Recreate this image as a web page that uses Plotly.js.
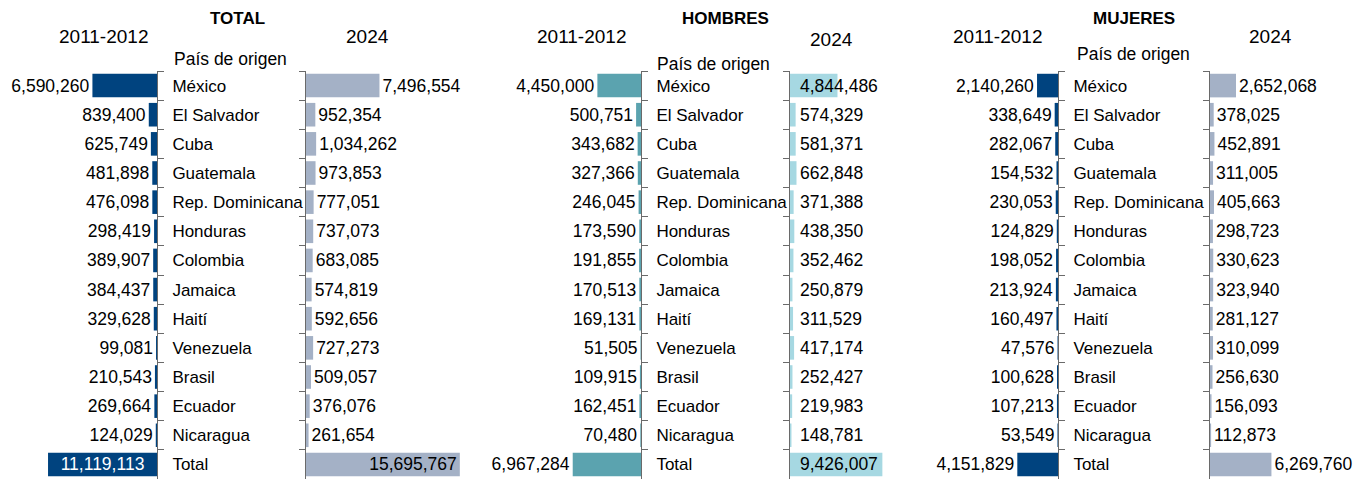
<!DOCTYPE html>
<html>
<head>
<meta charset="utf-8">
<script src="https://cdn.plot.ly/plotly-3.0.1.min.js"></script>
<style>
html,body{margin:0;padding:0;background:#fff;}
#chart{width:1367px;height:481px;}
</style>
</head>
<body>
<div id="chart"></div>
<script>
// ---- Data ----
const categories = ["México","El Salvador","Cuba","Guatemala","Rep. Dominicana","Honduras","Colombia","Jamaica","Haití","Venezuela","Brasil","Ecuador","Nicaragua","Total"];
const total2011 = [6590260,839400,625749,481898,476098,298419,389907,384437,329628,99081,210543,269664,124029,11119113];
const total2024 = [7496554,952354,1034262,973853,777051,737073,683085,574819,592656,727273,509057,376076,261654,15695767];
const hombres2011 = [4450000,500751,343682,327366,246045,173590,191855,170513,169131,51505,109915,162451,70480,6967284];
const hombres2024 = [4844486,574329,581371,662848,371388,438350,352462,250879,311529,417174,252427,219983,148781,9426007];
const mujeres2011 = [2140260,338649,282067,154532,230053,124829,198052,213924,160497,47576,100628,107213,53549,4151829];
const mujeres2024 = [2652068,378025,452891,311005,405663,298723,330623,323940,281127,310099,256630,156093,112873,6269760];
const panelTitles = ["TOTAL","HOMBRES","MUJERES"];
const periodLabels = ["2011-2012","2024"];
const headerLabel = "País de origen";

// ---- Styling ----
const W = 1367, H = 481;
const FONT = "Liberation Sans, Arial, Helvetica, sans-serif";
const pxPerUnit = 9.8e-6;
const topPx = 71, botPx = 479;
const yDomain = [1 - botPx / H, 1 - topPx / H];
const axisCol = "#6a6a6a";
const cDark = "#00437f", cGray = "#a4b1c6", cTeal = "#5ba3af", cLight = "#a6d8e2";

// x pixel domains
const panels = [
  {dom:[0,157], left:true},
  {dom:[306,470], left:false},
  {dom:[480,641], left:true},
  {dom:[790,905], left:false},
  {dom:[910,1058], left:true},
  {dom:[1210,1367], left:false}
];
const series = [total2011,total2024,hombres2011,hombres2024,mujeres2011,mujeres2024];
const colors = [cDark,cGray,cTeal,cLight,cDark,cGray];
const n = categories.length;

const traces = [];
const layout = {
  width: W, height: H,
  margin: {l:0,r:0,t:0,b:0},
  paper_bgcolor: "#fff", plot_bgcolor: "rgba(0,0,0,0)",
  showlegend: false,
  bargap: 0.19,
  font: {family: FONT, color: "#000"},
  annotations: []
};

panels.forEach((p, i) => {
  const k = i + 1;
  const xa = "x" + (k === 1 ? "" : k), ya = "y" + (k === 1 ? "" : k);
  const widthPx = p.dom[1] - p.dom[0];
  const maxVal = widthPx / pxPerUnit;
  const vals = series[i];
  let textpos = vals.map(() => "outside");
  let insideAnchor = "end";
  let insideColor = "#000";
  if (i === 0) { textpos[n-1] = "inside"; insideAnchor = "middle"; insideColor = "#fff"; }
  if (i === 1) { textpos[n-1] = "inside"; insideAnchor = "end"; }
  if (i === 3) { textpos = vals.map(() => "none"); }
  traces.push({
    type: "bar", orientation: "h",
    x: vals, y: categories,
    xaxis: xa, yaxis: ya,
    marker: {color: colors[i], line: {width: 0}},
    texttemplate: "%{x:,}",
    textposition: textpos,
    insidetextanchor: insideAnchor,
    textangle: 0,
    constraintext: "none",
    cliponaxis: false,
    outsidetextfont: {family: FONT, size: 17.5, color: "#000"},
    insidetextfont: {family: FONT, size: 17.5, color: insideColor},
    hoverinfo: "skip"
  });
  layout["xaxis" + (k === 1 ? "" : k)] = {
    domain: [p.dom[0] / W, p.dom[1] / W],
    anchor: ya,
    range: p.left ? [maxVal, 0] : [0, maxVal],
    showgrid: false, zeroline: false, showline: false, showticklabels: false, ticks: "",
    fixedrange: true
  };
  layout["yaxis" + (k === 1 ? "" : k)] = {
    domain: yDomain,
    anchor: xa,
    type: "category",
    categoryorder: "array", categoryarray: categories,
    range: [n - 0.5, -0.5],
    side: p.left ? "right" : "left",
    showline: true, linecolor: axisCol, linewidth: 1,
    ticks: "outside", tickson: "boundaries", ticklen: 6, tickcolor: axisCol, tickwidth: 1,
    showticklabels: p.left,
    ticklabelstandoff: 11,
    tickfont: {family: FONT, size: 17, color: "#000"},
    showgrid: false, zeroline: false, fixedrange: true
  };
});

// HOMBRES 2024 labels sit at the base of the bars
hombres2024.forEach((v, j) => {
  layout.annotations.push({
    xref: "x4", yref: "y4", x: 0, y: categories[j],
    text: v.toLocaleString("en-US"), showarrow: false,
    xanchor: "left", yanchor: "middle", xshift: 8,
    font: {family: FONT, size: 17.5, color: "#000"}
  });
});

// Titles
function ann(text, xpx, ypx, size, bold) {
  layout.annotations.push({
    xref: "paper", yref: "paper", x: xpx / W, y: 1 - ypx / H,
    text: bold ? "<b>" + text + "</b>" : text, showarrow: false,
    xanchor: "center", yanchor: "middle",
    font: {family: FONT, size: size, color: "#000"}
  });
}
ann(panelTitles[0], 237, 18, 17, true);
ann(panelTitles[1], 725, 18, 17, true);
ann(panelTitles[2], 1134, 18, 17, true);
ann(periodLabels[0], 103, 37, 19, false);
ann(periodLabels[1], 367, 37, 19, false);
ann(periodLabels[0], 581, 37, 19, false);
ann(periodLabels[1], 831, 39, 19, false);
ann(periodLabels[0], 997, 36, 19, false);
ann(periodLabels[1], 1270, 36, 19, false);
ann(headerLabel, 230, 59, 17.5, false);
ann(headerLabel, 713, 64, 17.5, false);
ann(headerLabel, 1133, 54, 17.5, false);

Plotly.newPlot("chart", traces, layout, {staticPlot: true, displayModeBar: false});
</script>
</body>
</html>
